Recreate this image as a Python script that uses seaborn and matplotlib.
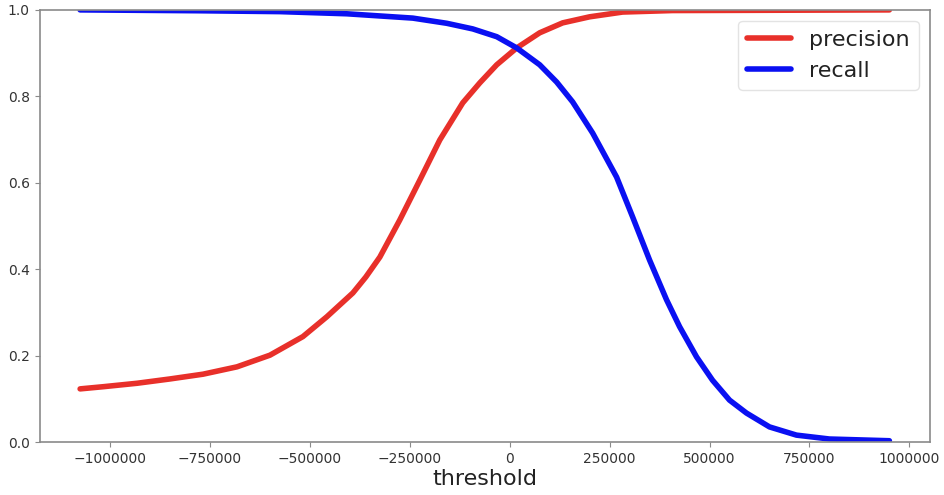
import matplotlib
matplotlib.use("Agg")
import matplotlib.pyplot as plt
import seaborn as sns
import pandas as pd

precision_thresholds = [-1075000, -1017500, -932500, -850000, -767500, -682500, -600000,
                        -517500, -457500, -392500, -360000, -325000, -275000, -225000,
                        -175000, -117500, -75000, -32500, 17500, 75000, 132500, 200000,
                        282500, 407500, 600000, 950000]
precision_values = [0.123, 0.128, 0.136, 0.146, 0.157, 0.174, 0.201,
                    0.244, 0.290, 0.345, 0.382, 0.428, 0.514, 0.606,
                    0.699, 0.785, 0.831, 0.873, 0.912, 0.947, 0.970, 0.984,
                    0.995, 0.9985, 0.999, 1.0]

recall_thresholds = [-1075000, -775000, -575000, -407500, -242500, -157500, -92500,
                     -32500, 17500, 75000, 117500, 157500, 207500, 267500, 307500,
                     350000, 392500, 425000, 467500, 507500, 550000, 592500, 650000,
                     717500, 800000, 950000]
recall_values = [1.0, 0.998, 0.996, 0.991, 0.981, 0.969, 0.956,
                 0.938, 0.912, 0.873, 0.833, 0.787, 0.715, 0.613, 0.521,
                 0.421, 0.329, 0.267, 0.197, 0.143, 0.097, 0.067, 0.035,
                 0.016, 0.007, 0.003]

x_ticks = [-1000000, -750000, -500000, -250000, 0, 250000, 500000, 750000, 1000000]
y_ticks = [0.0, 0.2, 0.4, 0.6, 0.8, 1.0]

df = pd.concat([
    pd.DataFrame({"threshold": precision_thresholds, "value": precision_values, "series": "precision"}),
    pd.DataFrame({"threshold": recall_thresholds, "value": recall_values, "series": "recall"}),
])

sns.set_style("white", {"axes.edgecolor": "#8a8a8a", "xtick.bottom": True, "ytick.left": True,
                        "xtick.color": "#8a8a8a", "ytick.color": "#8a8a8a"})
plt.rcParams["font.family"] = ["DejaVu Sans"]

fig = plt.figure(figsize=(9.44, 4.95), dpi=100)
ax = fig.add_axes([0.042, 0.107, 0.943, 0.873])

sns.lineplot(data=df, x="threshold", y="value", hue="series",
             palette={"precision": "#e8302a", "recall": "#0a10f2"},
             linewidth=4, errorbar=None, ax=ax, sort=True)

ax.set_ylim(0, 1)
ax.set_xlim(-1176250, 1051250)
ax.set_xticks(x_ticks)
ax.set_xticklabels([f"{t:d}".replace("-", "\u2212") for t in x_ticks])
ax.set_yticks(y_ticks)
ax.tick_params(axis="both", labelsize=10, labelcolor="#333333", length=3.5, width=0.8)
ax.set_xlabel("threshold", fontsize=16, color="#222222", labelpad=2)
ax.set_ylabel("")
for s in ax.spines.values():
    s.set_linewidth(1.2)

leg = ax.legend(loc="upper right", fontsize=16, frameon=True, fancybox=True,
                framealpha=0.8, edgecolor="#dddddd", handlelength=2.0)
leg.set_title(None)
for t in leg.get_texts():
    t.set_color("#222222")

fig.savefig("out.png", dpi=100)
